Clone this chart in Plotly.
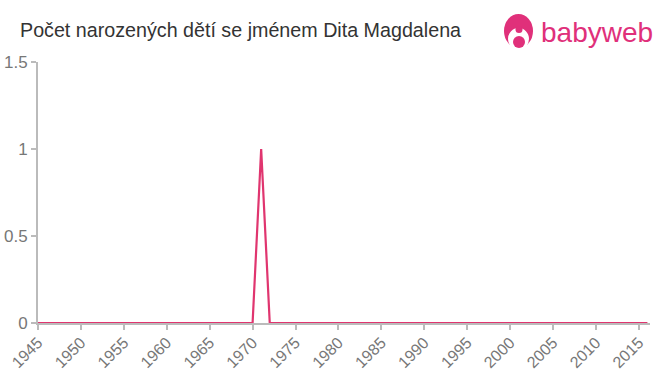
import plotly.graph_objects as go

years = list(range(1945, 2017))
counts = [0] * len(years)
counts[years.index(1971)] = 1

x_ticks = list(range(1945, 2016, 5))
y_ticks = [0, 0.5, 1, 1.5]
y_tick_labels = ["0", "0.5", "1", "1.5"]

L, R, T, B = 38, 10, 62, 52
W, H = 660, 375
PW, PH = W - L - R, H - T - B


def px(x):
    return (x - L) / PW


def py(y):
    return (H - B - y) / PH


fig = go.Figure()
fig.add_trace(go.Scatter(
    x=years, y=counts, mode="lines",
    line=dict(color="#e0356f", width=2.2),
    hoverinfo="x+y",
))

axis_common = dict(
    showgrid=False, zeroline=False, showline=True, automargin=False,
    linecolor="#bbbbbb", linewidth=2,
    ticks="outside", tickcolor="#bbbbbb", ticklen=5, tickwidth=2,
)

fig.update_layout(
    width=W, height=H,
    margin=dict(l=L, r=R, t=T, b=B),
    paper_bgcolor="white", plot_bgcolor="white",
    showlegend=False,
    font=dict(family="Liberation Sans, Arial, sans-serif", color="#777777"),
    title=dict(
        text="Počet narozených dětí se jménem Dita Magdalena",
        x=20 / W, xanchor="left", y=1 - 30 / H, yanchor="middle",
        font=dict(size=19.7, color="#333333"),
    ),
    xaxis=dict(
        range=[1945, 2016.3], tickmode="array", tickvals=x_ticks,
        tickangle=-45, tickfont=dict(size=16, color="#777777"),
        ticklabelstandoff=-3,
        **axis_common,
    ),
    yaxis=dict(
        range=[0, 1.5], tickmode="array", tickvals=y_ticks, ticktext=y_tick_labels,
        tickfont=dict(size=17, color="#777777"),
        **axis_common,
    ),
)

# babyweb logo
pink = "#e0307a"


def circ(x0, y0, x1, y1, color):
    fig.add_shape(type="circle", xref="paper", yref="paper",
                  x0=px(x0), x1=px(x1), y0=py(y1), y1=py(y0),
                  fillcolor=color, line=dict(width=0), layer="above")


circ(504, 14, 533, 48, pink)
circ(508, 28, 529, 50, "white")
fig.add_shape(type="rect", xref="paper", yref="paper",
              x0=px(505), x1=px(532), y0=py(52), y1=py(45),
              fillcolor="white", line=dict(width=0), layer="above")
circ(515.5, 26, 522.5, 33, pink)
circ(513, 36, 525, 48, pink)

fig.add_annotation(
    text="babyweb", xref="paper", yref="paper",
    x=px(539), y=py(33), xanchor="left", yanchor="middle",
    showarrow=False, font=dict(size=28, color=pink, family="Liberation Sans, Arial, sans-serif"),
)

fig.write_html("out.html")
